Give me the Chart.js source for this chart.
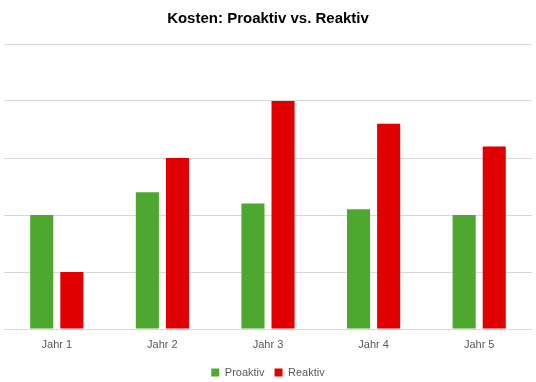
<!DOCTYPE html>
<html>
<head>
<meta charset="utf-8">
<script src="https://cdn.jsdelivr.net/npm/chart.js@4"></script>
<style>
  html, body { margin: 0; padding: 0; background: #fff; }
  #wrap { width: 536px; height: 382px; }
</style>
</head>
<body>
<div id="wrap"><canvas id="costChart"></canvas></div>
<script>
// Daten
const jahre = ["Jahr 1", "Jahr 2", "Jahr 3", "Jahr 4", "Jahr 5"];
const proaktiv = [2.0, 2.4, 2.2, 2.1, 2.0];
const reaktiv = [1.0, 3.0, 4.0, 3.6, 3.2];

const grau = '#595959';

new Chart(document.getElementById('costChart').getContext('2d'), {
    type: 'bar',
    data: {
        labels: jahre,
        datasets: [
            { label: 'Proaktiv', data: proaktiv, backgroundColor: '#4ea72e', barPercentage: 0.767, categoryPercentage: 0.57 },
            { label: 'Reaktiv', data: reaktiv, backgroundColor: '#e00000', barPercentage: 0.767, categoryPercentage: 0.57 }
        ]
    },
    options: {
        responsive: true,
        maintainAspectRatio: false,
        animation: false,
        layout: { padding: { left: 4, right: 4, top: 8, bottom: -6 } },
        plugins: {
            title: {
                display: true,
                text: 'Kosten: Proaktiv vs. Reaktiv',
                color: '#000',
                font: { family: 'Liberation Sans', size: 15, weight: 'bold' },
                padding: { top: 2, bottom: 16 }
            },
            legend: {
                position: 'bottom',
                labels: {
                    boxWidth: 8, boxHeight: 8, padding: 10,
                    color: grau,
                    font: { family: 'Liberation Sans', size: 11 }
                }
            },
            tooltip: { enabled: false }
        },
        scales: {
            x: {
                grid: { display: false },
                border: { display: false },
                ticks: { color: grau, font: { family: 'Liberation Sans', size: 11 }, padding: 1 },
                afterFit: (axis) => { axis.height = 28; }
            },
            y: {
                min: 0, max: 5,
                ticks: { display: false, stepSize: 1 },
                border: { display: false },
                grid: { color: '#d9d9d9', lineWidth: 1, drawTicks: false }
            }
        }
    }
});
</script>
</body>
</html>
